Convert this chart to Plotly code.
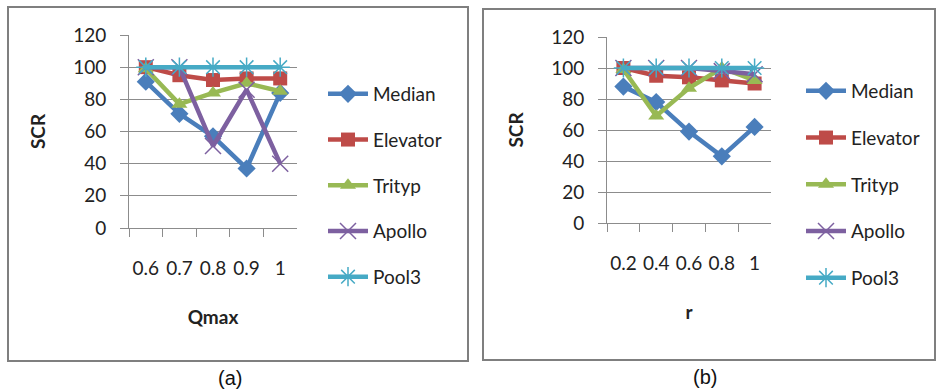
import plotly.graph_objects as go

# ---- data ----
qmax_cats = ["0.6", "0.7", "0.8", "0.9", "1"]
r_cats = ["0.2", "0.4", "0.6", "0.8", "1"]
series_names = ["Median", "Elevator", "Trityp", "Apollo", "Pool3"]

qmax_median = [91, 71, 57, 37, 84]
qmax_elevator = [100, 95, 92, 93, 93]
qmax_trityp = [99, 77, 84, 90, 85]
qmax_apollo = [100, 100, 51, 86, 40]
qmax_pool3 = [100, 100, 100, 100, 100]

r_median = [88, 78, 59, 43, 62]
r_elevator = [100, 95, 94, 92, 90]
r_trityp = [99, 69, 87, 100, 92]
r_apollo = [100, 100, 100, 98, 96]
r_pool3 = [100, 100, 100, 100, 100]

y_ticks = [0, 20, 40, 60, 80, 100, 120]

# ---- styling ----
colors = ["#4A7EBB", "#BE4B48", "#98B954", "#7D60A0", "#46AAC5"]
symbols = ["diamond", "square", "triangle-up", "x-thin-open", "asterisk-open"]
msizes = [14, 14, 14, 16, 16]
FONT = "Lato"
W, H = 936, 391

def px_x(p):
    return p / W

def px_y(p):
    return 1 - p / H

fig = go.Figure()

panels = [
    (qmax_cats, [qmax_median, qmax_elevator, qmax_trityp, qmax_apollo, qmax_pool3], "x", "y", "legend"),
    (r_cats, [r_median, r_elevator, r_trityp, r_apollo, r_pool3], "x2", "y2", "legend2"),
]

for cats, data, xa, ya, leg in panels:
    for i, (name, vals) in enumerate(zip(series_names, data)):
        mline = dict(width=1.5, color=colors[i]) if "open" in symbols[i] else dict(width=0)
        fig.add_trace(go.Scatter(
            x=cats, y=vals, name=name, mode="lines+markers",
            xaxis=xa, yaxis=ya, legend=leg, legendgroup=leg + name,
            line=dict(color=colors[i], width=4.5),
            marker=dict(symbol=symbols[i], size=msizes[i], color=colors[i], line=mline),
        ))

axis_common_y = dict(
    range=[0, 120], tickvals=y_ticks, showgrid=True, gridcolor="#8c8c8c", gridwidth=1,
    showline=True, linecolor="#8c8c8c", linewidth=1, ticks="outside", ticklen=8,
    tickcolor="#8c8c8c", tickfont=dict(family=FONT, size=19, color="#222"),
    zeroline=False, ticklabelstandoff=10, automargin=False,
)
axis_common_x = dict(
    type="category", range=[-0.5, 4.5], tickson="boundaries", ticks="outside", ticklen=8,
    tickcolor="#8c8c8c", showline=True, linecolor="#8c8c8c", linewidth=1, showgrid=False,
    tickfont=dict(family=FONT, size=19, color="#222"), ticklabelstandoff=23, zeroline=False,
    tickangle=0, automargin=False,
)

fig.update_layout(
    width=W, height=H, margin=dict(l=0, r=0, t=0, b=0, autoexpand=False),
    paper_bgcolor="white", plot_bgcolor="white", showlegend=True,
    xaxis=dict(domain=[px_x(129), px_x(297)], anchor="y",
               title=dict(text="<b>Qmax</b>", font=dict(family=FONT, size=19, color="#222"), standoff=32),
               **axis_common_x),
    yaxis=dict(domain=[px_y(228), px_y(35)], anchor="x",
               title=dict(text="<b>SCR</b>", font=dict(family=FONT, size=19, color="#222"), standoff=22),
               **axis_common_y),
    xaxis2=dict(domain=[px_x(607), px_x(771)], anchor="y2",
                title=dict(text="<b>r</b>", font=dict(family=FONT, size=19, color="#222"), standoff=32),
                **axis_common_x),
    yaxis2=dict(domain=[px_y(223), px_y(37)], anchor="x2",
                title=dict(text="<b>SCR</b>", font=dict(family=FONT, size=19, color="#222"), standoff=22),
                **axis_common_y),
    legend=dict(x=px_x(323), y=px_y(75), xanchor="left", yanchor="top",
                font=dict(family=FONT, size=19, color="#222"), tracegroupgap=18,
                itemwidth=40, bgcolor="rgba(0,0,0,0)", traceorder="grouped"),
    legend2=dict(x=px_x(801), y=px_y(72), xanchor="left", yanchor="top",
                 font=dict(family=FONT, size=19, color="#222"), tracegroupgap=19,
                 itemwidth=40, bgcolor="rgba(0,0,0,0)", traceorder="grouped"),
    shapes=[
        dict(type="rect", xref="paper", yref="paper", x0=px_x(8), x1=px_x(468), y0=px_y(361), y1=px_y(7),
             line=dict(color="#7f7f7f", width=2), fillcolor="rgba(0,0,0,0)"),
        dict(type="rect", xref="paper", yref="paper", x0=px_x(483), x1=px_x(935), y0=px_y(360), y1=px_y(9),
             line=dict(color="#7f7f7f", width=2), fillcolor="rgba(0,0,0,0)"),
    ],
    annotations=[
        dict(text="(a)", x=px_x(230), y=px_y(378), xref="paper", yref="paper", showarrow=False,
             xanchor="center", yanchor="middle",
             font=dict(family="Liberation Sans", size=20, color="#111")),
        dict(text="(b)", x=px_x(705), y=px_y(377), xref="paper", yref="paper", showarrow=False,
             xanchor="center", yanchor="middle",
             font=dict(family="Liberation Sans", size=20, color="#111")),
    ],
)

fig.write_html("out.html", config={"displayModeBar": False},
               post_script="document.body.style.margin='0';")
